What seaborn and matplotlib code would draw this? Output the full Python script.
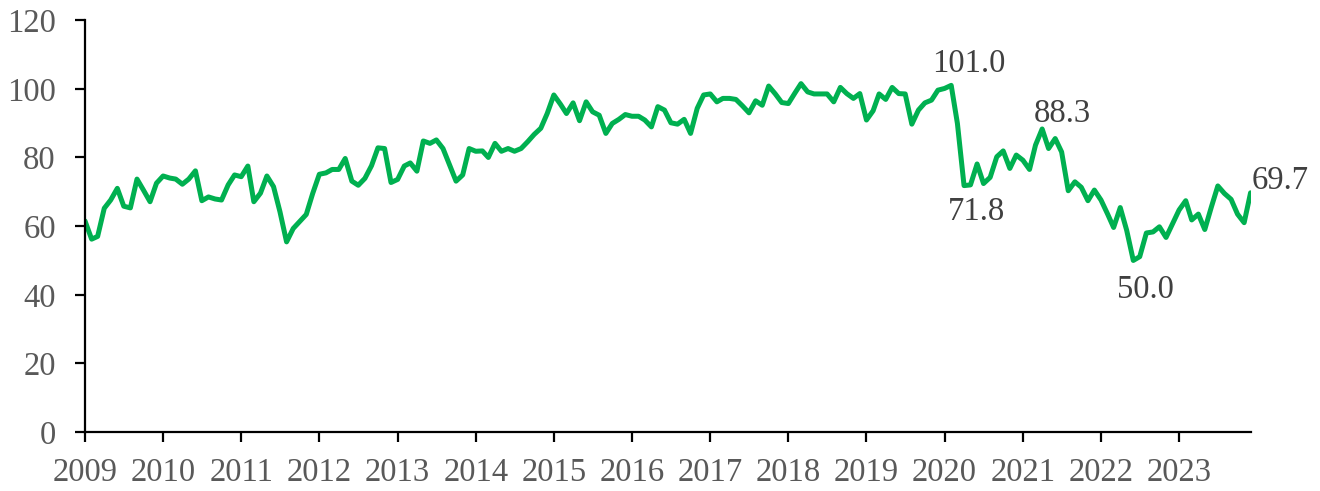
import pandas as pd
import numpy as np
import matplotlib
matplotlib.use("Agg")
import matplotlib.pyplot as plt
import matplotlib.dates as mdates
import seaborn as sns


# ============================================================
# 数据（月度，2009-01 ~ 2023-12，读图估计）
# ============================================================

v2009 = [61.5, 56.2, 57.0, 65.2, 67.6, 71.0, 65.8, 65.3, 73.7, 70.5, 67.1, 72.5]
v2010 = [74.6, 74.0, 73.7, 72.2, 73.7, 76.1, 67.4, 68.5, 67.9, 67.6, 72.0, 74.9]
v2011 = [74.4, 77.5, 67.1, 69.6, 74.6, 71.5, 64.2, 55.4, 59.3, 61.3, 63.4, 69.5]
v2012 = [75.1, 75.5, 76.5, 76.5, 79.7, 73.1, 71.9, 73.9, 77.6, 82.8, 82.6, 72.7]
v2013 = [73.6, 77.5, 78.4, 76.0, 84.8, 84.1, 85.1, 82.6, 77.8, 73.1, 74.9, 82.6]
v2014 = [81.8, 81.9, 80.0, 84.1, 81.8, 82.6, 81.8, 82.6, 84.6, 86.7, 88.5, 92.8]
v2015 = [98.2, 95.5, 92.8, 95.9, 90.7, 96.2, 93.3, 92.3, 87.0, 89.9, 91.1, 92.5]
v2016 = [92.0, 92.0, 90.9, 88.9, 94.8, 93.8, 90.1, 89.7, 91.1, 87.0, 94.3, 98.2]
v2017 = [98.5, 96.2, 97.2, 97.2, 96.9, 95.0, 93.0, 96.5, 95.2, 100.8, 98.5, 96.0]
v2018 = [95.7, 98.8, 101.5, 99.1, 98.5, 98.5, 98.5, 96.2, 100.4, 98.6, 97.2, 98.6]
v2019 = [90.9, 93.6, 98.5, 96.9, 100.4, 98.6, 98.5, 89.7, 93.8, 95.9, 96.7, 99.6]
v2020 = [100.1, 101.0, 89.9, 71.8, 72.0, 78.1, 72.4, 74.2, 80.2, 81.9, 76.8, 80.7]
v2021 = [79.2, 76.5, 83.6, 88.3, 82.6, 85.5, 81.6, 70.3, 72.9, 71.3, 67.4, 70.5]
v2022 = [67.6, 63.5, 59.6, 65.4, 58.8, 50.0, 51.1, 58.0, 58.3, 59.8, 56.7, 60.6]
v2023 = [64.7, 67.4, 61.8, 63.5, 59.0, 65.6, 71.7, 69.5, 67.8, 63.5, 61.0, 69.7]

values = (v2009 + v2010 + v2011 + v2012 + v2013 + v2014 + v2015 + v2016
          + v2017 + v2018 + v2019 + v2020 + v2021 + v2022 + v2023)
dates = pd.date_range("2009-01-01", periods=len(values), freq="MS")

years = list(range(2009, 2024))
y_ticks = [0, 20, 40, 60, 80, 100, 120]

# 标注点：(日期, 数值, x偏移px, y偏移px)，文字基线对齐
labels = [
    ("2020-02-01", 101.0, 18, 13),
    ("2020-04-01", 71.8, 12, -34),
    ("2021-04-01", 88.3, 20, 7),
    ("2022-06-01", 50.0, 12, -38),
    ("2023-12-01", 69.7, 30, 4),
]


# ============================================================
# 绘图
# ============================================================

sns.set_style("ticks")
plt.rcParams["font.family"] = ["Liberation Serif", "DejaVu Serif"]

df = pd.DataFrame({"date": dates, "value": values})

fig = plt.figure(figsize=(13.2, 4.91), dpi=100)
ax = fig.add_axes([0.0644, 0.120, 0.883, 0.839])

sns.lineplot(data=df, x="date", y="value", color="#00B050",
             linewidth=3.6, ax=ax)

ax.set_ylim(0, 120)
ax.set_yticks(y_ticks)
ax.set_xlim(dates[0], dates[-1])
ax.set_xticks([pd.Timestamp(f"{y}-01-01") for y in years])
ax.xaxis.set_major_formatter(mdates.DateFormatter("%Y"))
ax.set_xlabel("")
ax.set_ylabel("")

for side in ["top", "right"]:
    ax.spines[side].set_visible(False)
for side in ["left", "bottom"]:
    ax.spines[side].set_color("black")
    ax.spines[side].set_linewidth(1.6)

ax.tick_params(axis="both", direction="out", length=7, width=1.6,
               colors="black", labelcolor="#595959", labelsize=23.5)
ax.tick_params(axis="y", pad=14)
ax.tick_params(axis="x", pad=11)

for d, v, dx, dy in labels:
    ax.annotate(f"{v:.1f}", xy=(pd.Timestamp(d), v), xytext=(dx, dy),
                textcoords="offset pixels", ha="center", va="baseline",
                fontsize=23.5, color="#404040")

fig.savefig("out.png", dpi=100)
